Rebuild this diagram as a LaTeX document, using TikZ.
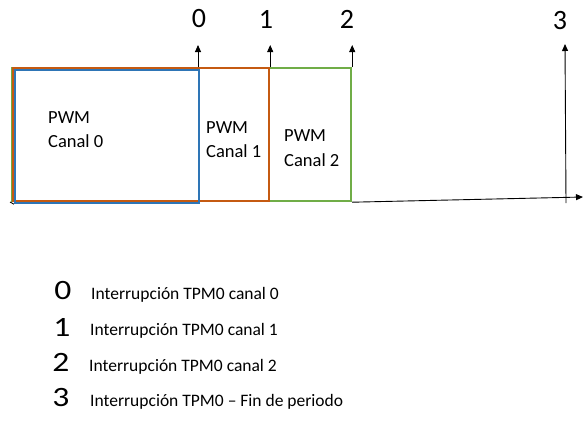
\documentclass[tikz,border=0pt]{standalone}
\usepackage{fontspec}
\setmainfont{Carlito}
\usetikzlibrary{arrows.meta, positioning}

\definecolor{canalazul}{HTML}{2E75B6}
\definecolor{canalnaranja}{HTML}{C55A11}
\definecolor{canalverde}{HTML}{70AD47}

\tikzset{
  caja/.style={draw, line width=2.2pt, anchor=north west, inner sep=0pt},
  flecha/.style={-{Triangle[length=7pt,width=6pt]}, line width=0.9pt},
  txtcaja/.style={anchor=base west, inner sep=0pt, font=\fontsize{18.5}{24}\selectfont},
  numero/.style={font=\fontsize{28}{30}\selectfont, inner sep=0pt},
  leyenda/.style={anchor=base west, inner sep=0pt, font=\fontsize{17.5}{20}\selectfont}
}

\begin{document}
\begin{tikzpicture}[x=1pt, y=-1pt]
\useasboundingbox (0,0) rectangle (583,442);

% Cajas de los canales
\node[caja, draw=canalverde, minimum width=339pt, minimum height=133pt] (c2) at (11,67) {};
\node[caja, draw=canalnaranja, minimum width=256pt, minimum height=133pt] (c1) at (12,67) {};
\node[caja, draw=canalazul, minimum width=184pt, minimum height=133pt] (c0) at (14,69) {};

\node[txtcaja] (t0a) at (48,123) {PWM};
\node[txtcaja] (t0b) at (48,147) {Canal 0};
\node[txtcaja] (t1a) at (206,133) {PWM};
\node[txtcaja] (t1b) at (206,157) {Canal 1};
\node[txtcaja] (t2a) at (284,141) {PWM};
\node[txtcaja] (t2b) at (284,166) {Canal 2};

% Eje de tiempo
\coordinate (ax0) at (10,202);
\coordinate (ax1) at (583,197);
\draw[flecha] (c2.south east) -- (ax1);
\draw[line width=0.9pt] (ax0) -- (c0.south west);

% Interrupciones
\node[numero] (n0) at (199,19) {0};
\node[numero] (n1) at (266,19) {1};
\node[numero] (n2) at (347,19) {2};
\node[numero] (n3) at (560,21) {3};
\coordinate (a0) at (198,67);
\coordinate (p3) at (566,203);
\draw[flecha] (a0) -- ++(0,-22);
\draw[flecha] (c1.north east) -- ++(0,-22);
\draw[flecha] (c2.north east) -- ++(0,-22);
\draw[flecha] (p3) -- (565,44);

% Leyenda
\node[numero, xscale=1.2] (l0) at (63,291) {0};
\node[numero, xscale=1.2] (l1) at (62,327) {1};
\node[numero, xscale=1.2] (l2) at (61,362) {2};
\node[numero, xscale=1.2] (l3) at (61,398) {3};
\node[leyenda] (d0) at (91,299) {Interrupción TPM0 canal 0};
\node[leyenda] (d1) at (90,335) {Interrupción TPM0 canal 1};
\node[leyenda] (d2) at (89,371) {Interrupción TPM0 canal 2};
\node[leyenda] (d3) at (90,406) {Interrupción TPM0 -- Fin de periodo};
\end{tikzpicture}
\end{document}
